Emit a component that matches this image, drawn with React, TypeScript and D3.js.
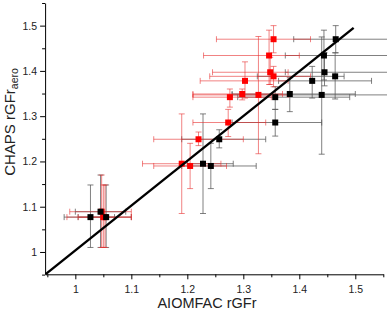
import React, { useRef, useEffect } from "react";
import * as d3 from "d3";

// AIOMFAC (x) vs CHAPS (y), black series
const blackX = [1.465, 1.444, 1.445, 1.464, 1.423, 1.44, 1.383, 1.357, 1.357, 1.257, 1.228, 1.242, 1.045, 1.027, 1.055];
const blackY = [1.47, 1.434, 1.397, 1.388, 1.378, 1.347, 1.349, 1.342, 1.286, 1.249, 1.195, 1.19, 1.089, 1.077, 1.077];
const blackXLo = [1.39, 1.375, 1.375, 1.325, 1.363, 1.28, 1.28, 1.29, 1.28, 1.19, 1.2, 1.19, 1.0, 0.98, 1.005];
const blackXHi = [1.56, 1.56, 1.56, 1.48, 1.529, 1.56, 1.5, 1.49, 1.44, 1.34, 1.282, 1.323, 1.09, 1.07, 1.1];
const blackYLo = [1.44, 1.38, 1.367, 1.338, 1.34, 1.216, 1.31, 1.315, 1.256, 1.23, 1.085, 1.14, 1.01, 1.01, 1.01];
const blackYHi = [1.5, 1.49, 1.44, 1.44, 1.41, 1.475, 1.385, 1.365, 1.315, 1.27, 1.305, 1.24, 1.17, 1.148, 1.148];

// red series
const redX = [1.354, 1.346, 1.348, 1.354, 1.303, 1.298, 1.327, 1.276, 1.273, 1.22, 1.19, 1.205, 1.047, 1.05, 1.053];
const redY = [1.47, 1.434, 1.397, 1.388, 1.378, 1.349, 1.347, 1.342, 1.286, 1.249, 1.195, 1.19, 1.089, 1.077, 1.077];
const redXLo = [1.252, 1.229, 1.245, 1.24, 1.223, 1.21, 1.21, 1.21, 1.21, 1.14, 1.12, 1.14, 0.99, 0.985, 1.005];
const redXHi = [1.42, 1.4, 1.38, 1.42, 1.38, 1.37, 1.38, 1.35, 1.34, 1.3, 1.26, 1.27, 1.1, 1.1, 1.1];
const redYLo = [1.44, 1.37, 1.37, 1.365, 1.34, 1.336, 1.217, 1.32, 1.255, 1.235, 1.085, 1.14, 1.01, 1.01, 1.01];
const redYHi = [1.5, 1.49, 1.43, 1.41, 1.42, 1.36, 1.476, 1.36, 1.315, 1.265, 1.305, 1.24, 1.17, 1.148, 1.148];

const majorTicks = [1, 1.1, 1.2, 1.3, 1.4, 1.5];
const minorTicks = [0.95, 1.05, 1.15, 1.25, 1.35, 1.45, 1.55];
const tickLabels = ["1", "1.1", "1.2", "1.3", "1.4", "1.5"];

// 1:1 line
const lineX = [0.947, 1.497];
const lineY = [0.951, 1.495];

const font = "'Liberation Sans', Arial, sans-serif";

const App = () => {
  const svgRef = useRef(null);

  useEffect(() => {
    const svg = d3.select(svgRef.current);
    svg.selectAll("*").remove();

    const x = d3.scaleLinear().domain([0.946, 1.55]).range([45.1, 383.3]);
    const y = d3.scaleLinear().domain([0.9507, 1.55]).range([274.3, 3]);

    const fmt = (d) => tickLabels[majorTicks.indexOf(d)];

    // minor ticks
    svg
      .append("g")
      .attr("transform", "translate(0,274.3)")
      .call(d3.axisBottom(x).tickValues(minorTicks).tickSize(3).tickFormat(() => ""))
      .call((g) => g.select(".domain").remove());
    svg
      .append("g")
      .attr("transform", "translate(45.1,0)")
      .call(d3.axisLeft(y).tickValues(minorTicks).tickSize(3).tickFormat(() => ""))
      .call((g) => g.select(".domain").remove());

    const xAxis = svg
      .append("g")
      .attr("transform", "translate(0,274.3)")
      .call(d3.axisBottom(x).tickValues(majorTicks).tickSize(5).tickSizeOuter(0).tickPadding(6).tickFormat(fmt));
    const yAxis = svg
      .append("g")
      .attr("transform", "translate(45.1,0)")
      .call(d3.axisLeft(y).tickValues(majorTicks).tickSize(5).tickSizeOuter(0).tickPadding(3).tickFormat(fmt));
    [xAxis, yAxis].forEach((g) => {
      g.selectAll("text").attr("font-size", 10.5).attr("font-family", font).attr("fill", "#222");
    });

    const cap = 3;
    const drawBars = (xs, ys, xLo, xHi, yLo, yHi, color, opacity) => {
      const g = svg.append("g").attr("stroke", color).attr("stroke-opacity", opacity).attr("stroke-width", 1).attr("fill", "none");
      xs.forEach((xv, i) => {
        const px = x(xv);
        const py = y(ys[i]);
        g.append("line").attr("x1", x(xLo[i])).attr("x2", x(xHi[i])).attr("y1", py).attr("y2", py);
        g.append("line").attr("x1", x(xLo[i])).attr("x2", x(xLo[i])).attr("y1", py - cap).attr("y2", py + cap);
        g.append("line").attr("x1", x(xHi[i])).attr("x2", x(xHi[i])).attr("y1", py - cap).attr("y2", py + cap);
        g.append("line").attr("x1", px).attr("x2", px).attr("y1", y(yLo[i])).attr("y2", y(yHi[i]));
        g.append("line").attr("x1", px - cap).attr("x2", px + cap).attr("y1", y(yLo[i])).attr("y2", y(yLo[i]));
        g.append("line").attr("x1", px - cap).attr("x2", px + cap).attr("y1", y(yHi[i])).attr("y2", y(yHi[i]));
      });
    };

    drawBars(blackX, blackY, blackXLo, blackXHi, blackYLo, blackYHi, "#555", 0.75);
    drawBars(redX, redY, redXLo, redXHi, redYLo, redYHi, "#e83030", 0.6);

    const s = 6;
    svg
      .append("g")
      .selectAll("rect")
      .data(redX)
      .enter()
      .append("rect")
      .attr("x", (d) => x(d) - s / 2)
      .attr("y", (d, i) => y(redY[i]) - s / 2)
      .attr("width", s)
      .attr("height", s)
      .attr("fill", "#ff0000");

    svg
      .append("g")
      .selectAll("rect")
      .data(blackX)
      .enter()
      .append("rect")
      .attr("x", (d) => x(d) - s / 2)
      .attr("y", (d, i) => y(blackY[i]) - s / 2)
      .attr("width", s)
      .attr("height", s)
      .attr("fill", "#000");

    svg
      .append("line")
      .attr("x1", x(lineX[0]))
      .attr("y1", y(lineY[0]))
      .attr("x2", x(lineX[1]))
      .attr("y2", y(lineY[1]))
      .attr("stroke", "#000")
      .attr("stroke-width", 2.4);

    svg
      .append("text")
      .attr("x", 207)
      .attr("y", 308)
      .attr("text-anchor", "middle")
      .attr("font-family", font)
      .attr("font-size", 14.5)
      .attr("fill", "#222")
      .text("AIOMFAC rGFr");

    const yt = svg
      .append("text")
      .attr("transform", "translate(15,122) rotate(-90)")
      .attr("text-anchor", "middle")
      .attr("font-family", font)
      .attr("font-size", 15)
      .attr("fill", "#222");
    yt.append("tspan").text("CHAPS rGFr");
    yt.append("tspan").attr("font-size", 10.5).attr("dy", 3).text("aero");
  }, []);

  return (
    <svg
      ref={svgRef}
      width="387"
      height="314"
      style={{ position: "absolute", left: 0, top: 0, background: "#fff" }}
    />
  );
};

export default App;
